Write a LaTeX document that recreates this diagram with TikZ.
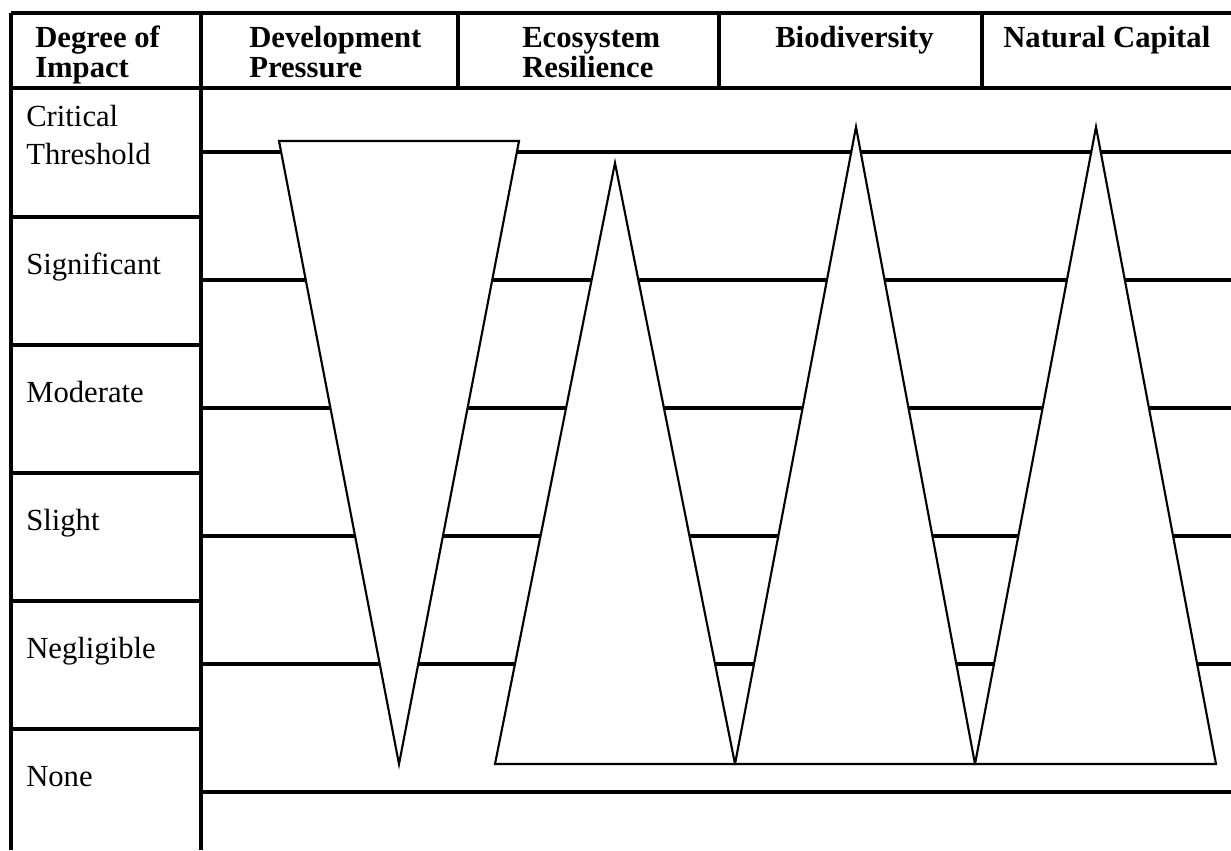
\documentclass[tikz,border=0pt]{standalone}
\usepackage{fontspec}
\setmainfont{Liberation Serif}
\begin{document}
\begin{tikzpicture}[x=0.75pt,y=-0.75pt,
  tbl/.style={line width=2.3pt},
  tri/.style={line width=1.6pt, fill=white, line join=miter},
  hd/.style={font=\fontsize{23}{28}\selectfont\bfseries, anchor=base west, inner sep=0pt},
  lbl/.style={font=\fontsize{23}{28}\selectfont, anchor=base west, inner sep=0pt}]
\useasboundingbox (0,0) rectangle (1231,850);
% header frame
\draw[tbl] (11,13) -- (1231,13);
\draw[tbl] (11,88) -- (1231,88);
\draw[tbl] (11,13) -- (11,850);
\draw[tbl] (201,13) -- (201,850);
\draw[tbl] (458,13) -- (458,88);
\draw[tbl] (719,13) -- (719,88);
\draw[tbl] (982,13) -- (982,88);
% left column separators
\foreach \y in {217,345,473,601,729}{\draw[tbl] (11,\y) -- (201,\y);}
% level lines
\foreach \y in {152,280,408,536,664,792}{\draw[tbl] (201,\y) -- (1231,\y);}
% triangles
\draw[tri] (279,141) -- (519,141) -- (399,764) -- cycle;
\draw[tri] (615,163) -- (735,764) -- (495,764) -- cycle;
\draw[tri] (856,127) -- (975,764) -- (735,764) -- cycle;
\draw[tri] (1096,127) -- (1216,764) -- (975,764) -- cycle;
% header text
\node[hd] (h1a) at (35,47) {Degree of};
\node[hd] (h1b) at (35,77) {Impact};
\node[hd] (h2a) at (249,47) {Development};
\node[hd] (h2b) at (249,77) {Pressure};
\node[hd] (h3a) at (522,47) {Ecosystem};
\node[hd] (h3b) at (522,77) {Resilience};
\node[hd] (h4) at (775,47) {Biodiversity};
\node[hd] (h5) at (1003,47) {Natural Capital};
% row labels
\node[lbl] (r1a) at (26,126) {Critical};
\node[lbl] (r1b) at (26,164) {Threshold};
\node[lbl] (r2) at (26,274) {Significant};
\node[lbl] (r3) at (26,402) {Moderate};
\node[lbl] (r4) at (26,530) {Slight};
\node[lbl] (r5) at (26,658) {Negligible};
\node[lbl] (r6) at (26,786) {None};
\end{tikzpicture}
\end{document}
